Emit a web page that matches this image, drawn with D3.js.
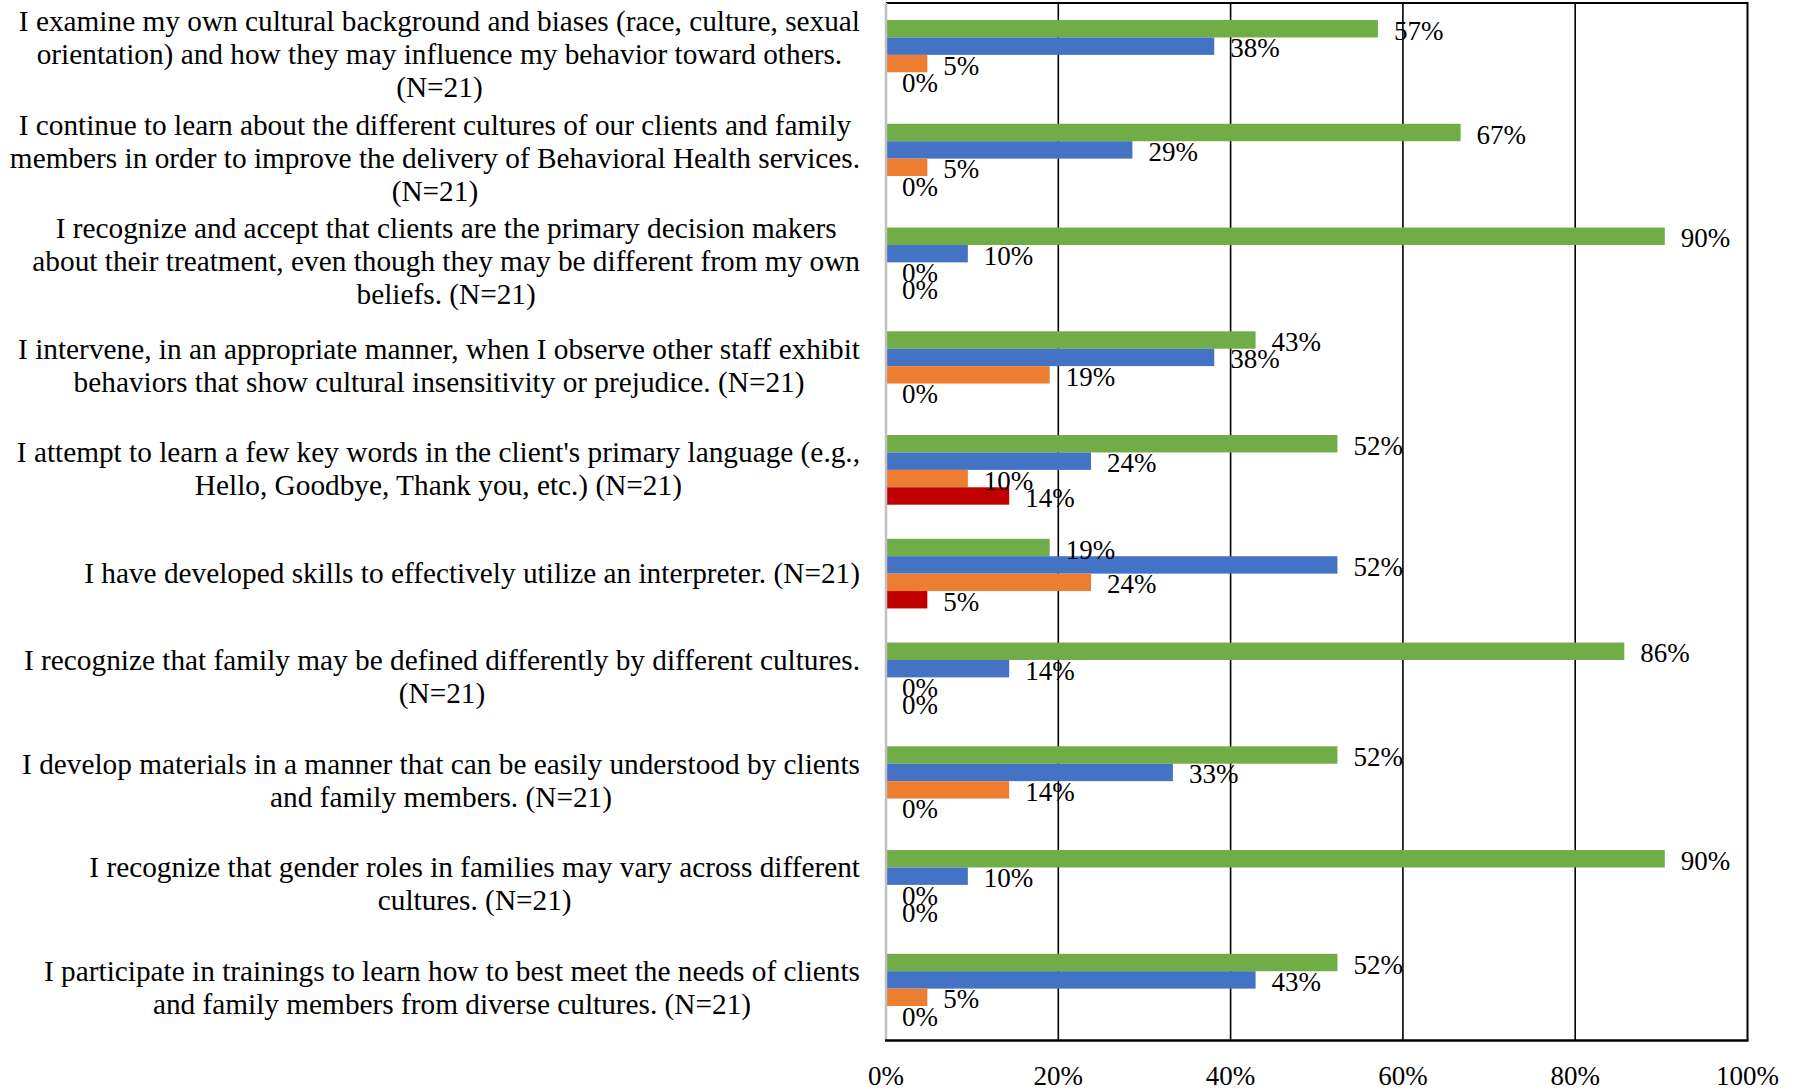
<!DOCTYPE html>
<html>
<head>
<meta charset="utf-8">
<script src="https://cdn.jsdelivr.net/npm/d3@7"></script>
<style>
  body { margin: 0; background: #fff; }
  text { font-family: 'Liberation Serif', 'Times New Roman', serif; fill: #000; }
</style>
</head>
<body>
<div id="chart"></div>
<script>
// statements, with the line breaks as they appear in the picture
const statements = [
  ['I examine my own cultural background and biases (race, culture, sexual',
   'orientation) and how they may influence my behavior toward others.',
   '(N=21)'],
  ['I continue to learn about the different cultures of our clients and family',
   'members in order to improve the delivery of Behavioral Health services.',
   '(N=21)'],
  ['I recognize and accept that clients are the primary decision makers',
   'about their treatment, even though they may be different from my own',
   'beliefs. (N=21)'],
  ['I intervene, in an appropriate manner, when I observe other staff exhibit',
   'behaviors that show cultural insensitivity or prejudice. (N=21)'],
  ['I attempt to learn a few key words in the client\'s primary language (e.g.,',
   'Hello, Goodbye, Thank you, etc.) (N=21)'],
  ['I have developed skills to effectively utilize an interpreter. (N=21)'],
  ['I recognize that family may be defined differently by different cultures.',
   '(N=21)'],
  ['I develop materials in a manner that can be easily understood by clients',
   'and family members. (N=21)'],
  ['I recognize that gender roles in families may vary across different',
   'cultures. (N=21)'],
  ['I participate in trainings to learn how to best meet the needs of clients',
   'and family members from diverse cultures. (N=21)']
]

// series, top to bottom inside each group
const seriesNames = ['Always', 'Often', 'Sometimes', 'Never']
const seriesColors = ['#70ad47', '#4472c4', '#ed7d31', '#c00000']

// percent values per statement
const always    = [57.1, 66.7, 90.4, 42.9, 52.4, 19.0, 85.7, 52.4, 90.4, 52.4]
const often     = [38.1, 28.6,  9.5, 38.1, 23.8, 52.4, 14.3, 33.3,  9.5, 42.9]
const sometimes = [ 4.8,  4.8,  0.0, 19.0,  9.5, 23.8,  0.0, 14.3,  0.0,  4.8]
const never     = [ 0.0,  0.0,  0.0,  0.0, 14.3,  4.8,  0.0,  0.0,  0.0,  0.0]
const seriesValues = [always, often, sometimes, never]

const xTicks = [0, 20, 40, 60, 80, 100]

const WIDTH = 1795
const HEIGHT = 1090
const LEFT = 886
const RIGHT = 1747.5
const TOP = 3
const BOTTOM = 1040.5
const LABEL_RIGHT = 860
const FONT = 27
const CAT_FONT = 29.3
const LINE_H = 33

const svg = d3.select('#chart').append('svg')
              .attr('width', WIDTH)
              .attr('height', HEIGHT)

const x = d3.scaleLinear().domain([0, 100]).range([LEFT, RIGHT])
const y = d3.scaleBand()
            .domain(d3.range(statements.length))
            .range([TOP, BOTTOM])
const ySub = d3.scaleBand()
               .domain(seriesNames)
               .range([0, y.bandwidth()])
               .paddingOuter(0.98)

// gridlines
svg.append('g')
   .selectAll('line')
   .data(xTicks.filter(t => t > 0 && t < 100))
   .enter()
     .append('line')
     .attr('x1', d => x(d))
     .attr('x2', d => x(d))
     .attr('y1', TOP)
     .attr('y2', BOTTOM)
     .attr('stroke', '#000')
     .attr('stroke-width', 1.6)

// plot border, top and right
svg.append('path')
   .attr('d', `M${LEFT},${TOP} H${RIGHT} V${BOTTOM}`)
   .attr('fill', 'none')
   .attr('stroke', '#000')
   .attr('stroke-width', 2)

// bars
const rows = []
statements.forEach((s, i) => {
  seriesNames.forEach((name, j) => {
    rows.push({ i, name, color: seriesColors[j], v: seriesValues[j][i] })
  })
})

const bars = svg.append('g').attr('class', 'bars')
bars.selectAll('rect')
    .data(rows)
    .enter()
      .append('rect')
      .attr('x', x(0))
      .attr('y', d => y(d.i) + ySub(d.name))
      .attr('width', d => x(d.v) - x(0))
      .attr('height', ySub.bandwidth())
      .attr('fill', d => d.color)

bars.selectAll('text')
    .data(rows)
    .enter()
      .append('text')
      .attr('x', d => x(d.v) + 16)
      .attr('y', d => y(d.i) + ySub(d.name) + ySub.bandwidth() / 2 + 11)
      .attr('font-size', FONT)
      .text(d => Math.round(d.v) + '%')

// left axis (grey) and bottom axis
svg.append('line')
   .attr('x1', LEFT).attr('x2', LEFT)
   .attr('y1', TOP).attr('y2', BOTTOM)
   .attr('stroke', '#c0c0c0')
   .attr('stroke-width', 2.5)

svg.append('line')
   .attr('x1', LEFT - 1).attr('x2', RIGHT + 1)
   .attr('y1', BOTTOM).attr('y2', BOTTOM)
   .attr('stroke', '#000')
   .attr('stroke-width', 2.5)

svg.append('g')
   .selectAll('text')
   .data(xTicks)
   .enter()
     .append('text')
     .attr('x', d => x(d))
     .attr('y', 1085)
     .attr('text-anchor', 'middle')
     .attr('font-size', FONT)
     .text(d => d + '%')

// category labels: block right-aligned, lines centred within the block
const labels = svg.append('g').attr('class', 'labels')
statements.forEach((lines, i) => {
  const g = labels.append('g')
  const cy = y(i) + y.bandwidth() / 2
  const texts = g.selectAll('text')
                 .data(lines)
                 .enter()
                   .append('text')
                   .attr('font-size', CAT_FONT)
                   .attr('text-anchor', 'middle')
                   .attr('y', (d, k) => cy + (k - (lines.length - 1) / 2) * LINE_H + 9)
                   .text(d => d)
  const blockW = d3.max(texts.nodes(), n => n.getComputedTextLength())
  texts.attr('x', LABEL_RIGHT - blockW / 2)
})
</script>
</body>
</html>
